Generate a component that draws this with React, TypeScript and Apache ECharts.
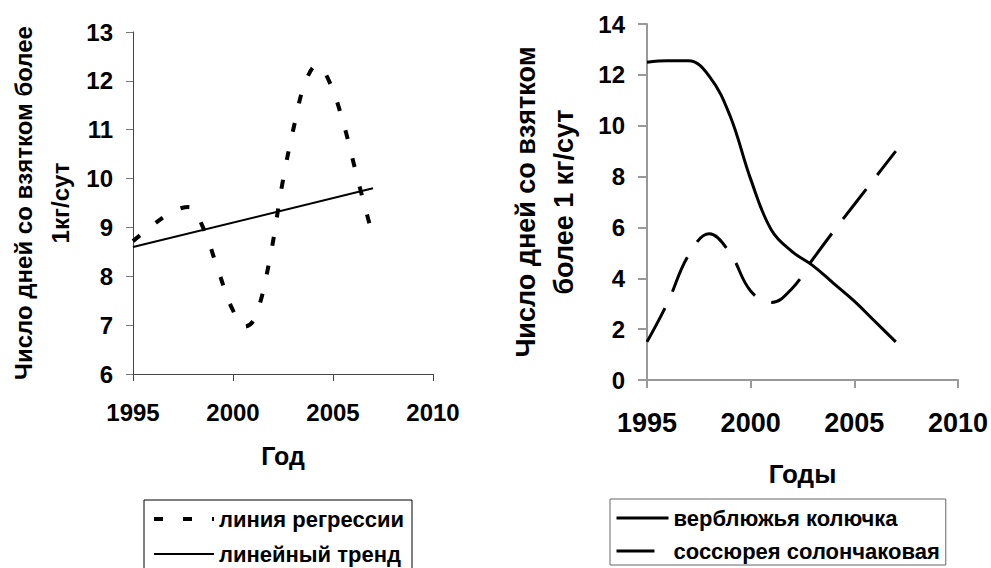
import React, { useEffect, useRef } from "react";
import * as echarts from "echarts";

// Left chart: regression curve and linear trend
const regressionPoints: [number, number][] = [
  [1995, 8.72], [1996, 9.05], [1997, 9.33], [1997.8, 9.42], [1998.5, 9.0],
  [1999.3, 8.07], [2000, 7.3], [2000.6, 6.97], [2001.1, 7.15], [2001.8, 8.27],
  [2002.5, 9.97], [2003.1, 11.16], [2003.6, 11.95], [2004.2, 12.32], [2004.8, 12.0],
  [2005.5, 11.16], [2006.2, 10.04], [2007, 8.8],
];
const trendPoints: [number, number][] = [[1995, 8.6], [2007, 9.8]];

// Right chart series
const years = [1995, 1996, 1997, 1998, 1999, 2000, 2001, 2002, 2003, 2004, 2005, 2006, 2007];
const camelThorn = [12.5, 12.55, 12.55, 11.95, 10.4, 7.9, 5.9, 5.05, 4.5, 3.8, 3.1, 2.3, 1.5];
const saussurea = [1.5, 3.05, 4.9, 5.75, 5.0, 3.5, 3.05, 3.6, 4.75, 5.85, 6.9, 7.95, 9.0];

const leftNames = ["линия регрессии", "линейный тренд"];
const rightNames = ["верблюжья колючка", "соссюрея солончаковая"];

const FONT = "'Liberation Sans', Arial, sans-serif";

export default function App() {
  const ref = useRef<HTMLDivElement>(null);
  useEffect(() => {
    if (!ref.current) return;
    const chart = echarts.init(ref.current, undefined, { renderer: "svg" });
    const bold = { fontFamily: FONT, fontWeight: "bold" as const, color: "#000" };
    const leftAxisLine = { show: true, lineStyle: { color: "#444", width: 1 } };
    const rightAxisLine = { show: true, lineStyle: { color: "#999", width: 2 } };
    const plain = (v: number) => String(v);
    const hiddenSymbol = { color: "transparent", borderColor: "transparent", borderWidth: 0, opacity: 0 };
    chart.setOption({
      animation: false,
      backgroundColor: "#fff",
      textStyle: { fontFamily: FONT },
      grid: [
        { left: 133, top: 32, width: 300, height: 342 },
        { left: 647, top: 24, width: 312, height: 356 },
      ],
      xAxis: [
        {
          type: "value", gridIndex: 0, min: 1995, max: 2010, interval: 5,
          axisLine: leftAxisLine,
          axisTick: { show: true, length: 7, lineStyle: { color: "#444" } },
          splitLine: { show: false },
          axisLabel: { ...bold, fontSize: 24, margin: 26, formatter: plain },
          name: "Год", nameLocation: "middle", nameGap: 69,
          nameTextStyle: { ...bold, fontSize: 25 },
        },
        {
          type: "value", gridIndex: 1, min: 1995, max: 2010, interval: 5,
          axisLine: rightAxisLine,
          axisTick: { show: true, length: 8, lineStyle: { color: "#999", width: 2 } },
          splitLine: { show: false },
          axisLabel: { ...bold, fontSize: 27, margin: 29, formatter: plain },
          name: "Годы", nameLocation: "middle", nameGap: 81,
          nameTextStyle: { ...bold, fontSize: 26 },
        },
      ],
      yAxis: [
        {
          type: "value", gridIndex: 0, min: 6, max: 13, interval: 1,
          axisLine: leftAxisLine,
          axisTick: { show: true, length: 7, lineStyle: { color: "#777" } },
          splitLine: { show: false },
          axisLabel: { ...bold, fontSize: 24, margin: 20, formatter: plain },
          name: "Число дней со взятком более\n1кг/сут", nameLocation: "middle", nameGap: 54,
          nameTextStyle: { ...bold, fontSize: 24, lineHeight: 37 },
        },
        {
          type: "value", gridIndex: 1, min: 0, max: 14, interval: 2,
          axisLine: rightAxisLine,
          axisTick: { show: true, length: 9, lineStyle: { color: "#999", width: 2 } },
          splitLine: { show: false },
          axisLabel: { ...bold, fontSize: 24, margin: 22, formatter: plain },
          name: "Число дней со взятком\nболее 1 кг/сут", nameLocation: "middle", nameGap: 64,
          nameTextStyle: { ...bold, fontSize: 27, lineHeight: 38 },
        },
      ],
      legend: [
        {
          data: leftNames, orient: "vertical", left: 144, top: 500, height: 120,
          borderColor: "#000", borderWidth: 1, padding: [8, 8, 8, 8],
          itemGap: 13, itemWidth: 60, itemHeight: 20,
          itemStyle: hiddenSymbol,
          lineStyle: { width: "inherit" },
          textStyle: { ...bold, fontSize: 22 },
        },
        {
          data: rightNames, orient: "vertical", left: 610, top: 499, height: 120,
          borderColor: "#666", borderWidth: 1, padding: [8, 6, 3, 5],
          itemGap: 11, itemWidth: 52, itemHeight: 20,
          itemStyle: hiddenSymbol,
          lineStyle: { width: "inherit" },
          textStyle: { ...bold, fontSize: 22 },
        },
      ],
      series: [
        {
          name: leftNames[0], type: "line", xAxisIndex: 0, yAxisIndex: 0,
          data: regressionPoints, smooth: 0.4, symbol: "none",
          lineStyle: { color: "#000", width: 4, type: [9, 20] },
          itemStyle: { color: "#000" },
        },
        {
          name: leftNames[1], type: "line", xAxisIndex: 0, yAxisIndex: 0,
          data: trendPoints, symbol: "none",
          lineStyle: { color: "#000", width: 2 },
          itemStyle: { color: "#000" },
        },
        {
          name: rightNames[0], type: "line", xAxisIndex: 1, yAxisIndex: 1,
          data: years.map((y, i) => [y, camelThorn[i]]), smooth: 0.4, symbol: "none",
          lineStyle: { color: "#000", width: 3 },
          itemStyle: { color: "#000" },
        },
        {
          name: rightNames[1], type: "line", xAxisIndex: 1, yAxisIndex: 1,
          data: years.map((y, i) => [y, saussurea[i]]), smooth: 0.4, symbol: "none",
          lineStyle: { color: "#000", width: 3, type: [38, 18] },
          itemStyle: { color: "#000" },
        },
      ],
    });
    return () => chart.dispose();
  }, []);
  return (
    <div
      ref={ref}
      style={{ position: "fixed", left: 0, top: 0, width: 991, height: 568, background: "#fff" }}
    />
  );
}
